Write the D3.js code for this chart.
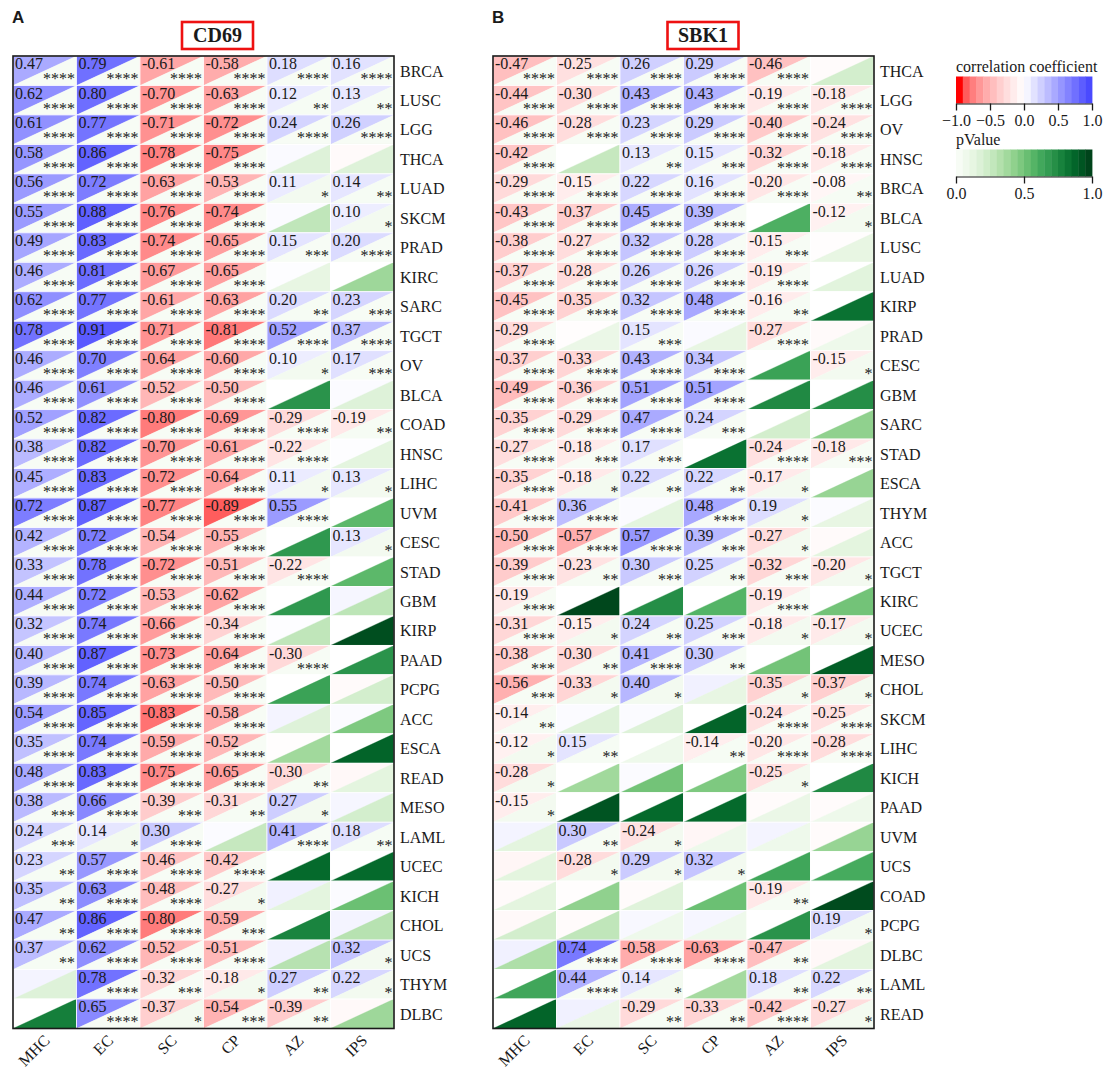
<!DOCTYPE html>
<html>
<head>
<meta charset="utf-8">
<script src="https://cdn.jsdelivr.net/npm/d3@7"></script>
<style>
  html, body { margin: 0; padding: 0; background: #ffffff; }
  svg text { font-family: "Liberation Serif", "Times New Roman", serif; fill: #1a1a1a; }
</style>
</head>
<body>
<svg id="chart" width="1105" height="1068"></svg>
<script>
// Immune-feature axes shared by both panels
const features = ["MHC", "EC", "SC", "CP", "AZ", "IPS"];

// ---- CD69 panel ----
const cd69Cancers = ["BRCA","LUSC","LGG","THCA","LUAD","SKCM","PRAD","KIRC","SARC","TGCT","OV",
  "BLCA","COAD","HNSC","LIHC","UVM","CESC","STAD","GBM","KIRP","PAAD","PCPG","ACC","ESCA",
  "READ","MESO","LAML","UCEC","KICH","CHOL","UCS","THYM","DLBC"];
const cd69Corr = [
  [0.47, 0.79, -0.61, -0.58, 0.18, 0.16],
  [0.62, 0.80, -0.70, -0.63, 0.12, 0.13],
  [0.61, 0.77, -0.71, -0.72, 0.24, 0.26],
  [0.58, 0.86, -0.78, -0.75, 0.03, -0.04],
  [0.56, 0.72, -0.63, -0.53, 0.11, 0.14],
  [0.55, 0.88, -0.76, -0.74, 0.02, 0.10],
  [0.49, 0.83, -0.74, -0.65, 0.15, 0.20],
  [0.46, 0.81, -0.67, -0.65, 0.01, 0.00],
  [0.62, 0.77, -0.61, -0.63, 0.20, 0.23],
  [0.78, 0.91, -0.71, -0.81, 0.52, 0.37],
  [0.46, 0.70, -0.64, -0.60, 0.10, 0.17],
  [0.46, 0.61, -0.52, -0.50, 0.00, 0.02],
  [0.52, 0.82, -0.80, -0.69, -0.29, -0.19],
  [0.38, 0.82, -0.70, -0.61, -0.22, 0.01],
  [0.45, 0.83, -0.72, -0.64, 0.11, 0.13],
  [0.72, 0.87, -0.77, -0.89, 0.55, 0.00],
  [0.42, 0.72, -0.54, -0.55, 0.00, 0.13],
  [0.33, 0.78, -0.72, -0.51, -0.22, 0.00],
  [0.44, 0.72, -0.53, -0.62, 0.00, 0.05],
  [0.32, 0.74, -0.66, -0.34, 0.01, 0.00],
  [0.40, 0.87, -0.73, -0.64, -0.30, 0.00],
  [0.39, 0.74, -0.63, -0.50, 0.00, -0.04],
  [0.54, 0.85, -0.83, -0.58, 0.06, 0.02],
  [0.35, 0.74, -0.59, -0.52, -0.02, 0.00],
  [0.48, 0.83, -0.75, -0.65, -0.30, -0.06],
  [0.38, 0.66, -0.39, -0.31, 0.27, 0.05],
  [0.24, 0.14, 0.30, 0.02, 0.41, 0.18],
  [0.23, 0.57, -0.46, -0.42, 0.00, 0.00],
  [0.35, 0.63, -0.48, -0.27, 0.08, 0.02],
  [0.47, 0.86, -0.80, -0.59, 0.00, 0.06],
  [0.37, 0.62, -0.52, -0.51, 0.07, 0.32],
  [0.06, 0.78, -0.32, -0.18, 0.27, 0.22],
  [0.00, 0.65, -0.37, -0.54, -0.39, -0.05]
];
const cd69P = [
  [1e-5, 1e-5, 1e-5, 1e-5, 1e-5, 1e-5],
  [1e-5, 1e-5, 1e-5, 1e-5, 5e-3, 5e-3],
  [1e-5, 1e-5, 1e-5, 1e-5, 1e-5, 1e-5],
  [1e-5, 1e-5, 1e-5, 1e-5, 0.15, 0.15],
  [1e-5, 1e-5, 1e-5, 1e-5, 0.03, 5e-3],
  [1e-5, 1e-5, 1e-5, 1e-5, 0.27, 0.03],
  [1e-5, 1e-5, 1e-5, 1e-5, 5e-4, 1e-5],
  [1e-5, 1e-5, 1e-5, 1e-5, 0.10, 0.38],
  [1e-5, 1e-5, 1e-5, 1e-5, 5e-3, 5e-4],
  [1e-5, 1e-5, 1e-5, 1e-5, 1e-5, 1e-5],
  [1e-5, 1e-5, 1e-5, 1e-5, 0.03, 5e-4],
  [1e-5, 1e-5, 1e-5, 1e-5, 0.72, 0.15],
  [1e-5, 1e-5, 1e-5, 1e-5, 1e-5, 5e-3],
  [1e-5, 1e-5, 1e-5, 1e-5, 1e-5, 0.12],
  [1e-5, 1e-5, 1e-5, 1e-5, 0.03, 0.03],
  [1e-5, 1e-5, 1e-5, 1e-5, 1e-5, 0.56],
  [1e-5, 1e-5, 1e-5, 1e-5, 0.70, 0.03],
  [1e-5, 1e-5, 1e-5, 1e-5, 1e-5, 0.56],
  [1e-5, 1e-5, 1e-5, 1e-5, 0.70, 0.28],
  [1e-5, 1e-5, 1e-5, 1e-5, 0.27, 0.97],
  [1e-5, 1e-5, 1e-5, 1e-5, 1e-5, 0.72],
  [1e-5, 1e-5, 1e-5, 1e-5, 0.66, 0.20],
  [1e-5, 1e-5, 1e-5, 1e-5, 0.15, 0.47],
  [1e-5, 1e-5, 1e-5, 1e-5, 0.37, 0.90],
  [1e-5, 1e-5, 1e-5, 1e-5, 5e-3, 0.12],
  [5e-4, 1e-5, 5e-4, 5e-3, 0.03, 0.20],
  [5e-4, 0.03, 1e-5, 0.25, 1e-5, 5e-3],
  [5e-3, 1e-5, 1e-5, 1e-5, 0.88, 0.88],
  [5e-3, 1e-5, 1e-5, 0.03, 0.12, 0.52],
  [5e-3, 1e-5, 1e-5, 5e-4, 0.78, 0.30],
  [5e-3, 1e-5, 1e-5, 1e-5, 0.30, 0.03],
  [0.15, 1e-5, 5e-4, 0.03, 5e-3, 0.03],
  [0.80, 1e-5, 0.03, 5e-4, 5e-3, 0.38]
];

// ---- SBK1 panel ----
const sbk1Cancers = ["THCA","LGG","OV","HNSC","BRCA","BLCA","LUSC","LUAD","KIRP","PRAD","CESC",
  "GBM","SARC","STAD","ESCA","THYM","ACC","TGCT","KIRC","UCEC","MESO","CHOL","SKCM","LIHC",
  "KICH","PAAD","UVM","UCS","COAD","PCPG","DLBC","LAML","READ"];
const sbk1Corr = [
  [-0.47, -0.25, 0.26, 0.29, -0.46, -0.03],
  [-0.44, -0.30, 0.43, 0.43, -0.19, -0.18],
  [-0.46, -0.28, 0.23, 0.29, -0.40, -0.24],
  [-0.42, 0.00, 0.13, 0.15, -0.32, -0.18],
  [-0.29, -0.15, 0.22, 0.16, -0.20, -0.08],
  [-0.43, -0.37, 0.45, 0.39, 0.00, -0.12],
  [-0.38, -0.27, 0.32, 0.28, -0.15, -0.02],
  [-0.37, -0.28, 0.26, 0.26, -0.19, 0.00],
  [-0.45, -0.35, 0.32, 0.48, -0.16, 0.00],
  [-0.29, -0.02, 0.15, 0.03, -0.27, -0.04],
  [-0.37, -0.33, 0.43, 0.34, 0.00, -0.15],
  [-0.49, -0.36, 0.51, 0.51, 0.00, 0.00],
  [-0.35, -0.29, 0.47, 0.24, 0.00, 0.00],
  [-0.27, -0.18, 0.17, 0.00, -0.24, -0.18],
  [-0.35, -0.18, 0.22, 0.22, -0.17, 0.00],
  [-0.41, 0.36, 0.02, 0.48, 0.19, 0.02],
  [-0.50, -0.57, 0.57, 0.39, -0.27, -0.04],
  [-0.39, -0.23, 0.30, 0.25, -0.32, -0.20],
  [-0.19, 0.00, 0.00, 0.00, -0.19, 0.00],
  [-0.31, -0.15, 0.24, 0.25, -0.18, -0.17],
  [-0.38, -0.30, 0.41, 0.30, 0.00, 0.00],
  [-0.56, -0.33, 0.40, 0.08, -0.35, -0.37],
  [-0.14, 0.02, 0.02, 0.00, -0.24, -0.25],
  [-0.12, 0.15, 0.00, -0.14, -0.20, -0.28],
  [-0.28, 0.00, 0.02, 0.00, -0.25, 0.00],
  [-0.15, 0.00, 0.00, 0.00, -0.03, -0.03],
  [0.06, 0.30, -0.24, -0.08, 0.06, -0.03],
  [-0.08, -0.28, 0.29, 0.32, 0.00, 0.00],
  [-0.04, -0.02, -0.03, 0.00, -0.19, 0.00],
  [-0.05, -0.03, 0.04, 0.05, 0.00, 0.19],
  [0.08, 0.74, -0.58, -0.63, -0.47, -0.06],
  [0.00, 0.44, 0.14, 0.00, 0.18, 0.22],
  [0.00, 0.08, -0.29, -0.33, -0.42, -0.27]
];
const sbk1P = [
  [1e-5, 1e-5, 1e-5, 1e-5, 1e-5, 0.20],
  [1e-5, 1e-5, 1e-5, 1e-5, 1e-5, 1e-5],
  [1e-5, 1e-5, 1e-5, 1e-5, 1e-5, 1e-5],
  [1e-5, 0.25, 5e-3, 5e-4, 1e-5, 1e-5],
  [1e-5, 1e-5, 1e-5, 1e-5, 1e-5, 5e-3],
  [1e-5, 1e-5, 1e-5, 1e-5, 0.60, 0.03],
  [1e-5, 1e-5, 1e-5, 1e-5, 5e-4, 0.10],
  [1e-5, 1e-5, 1e-5, 1e-5, 1e-5, 0.13],
  [1e-5, 1e-5, 1e-5, 1e-5, 5e-3, 0.85],
  [1e-5, 0.08, 5e-4, 0.10, 1e-5, 0.06],
  [1e-5, 1e-5, 1e-5, 1e-5, 0.66, 0.03],
  [1e-5, 1e-5, 1e-5, 1e-5, 0.76, 0.74],
  [1e-5, 1e-5, 1e-5, 5e-4, 0.20, 0.42],
  [1e-5, 5e-4, 5e-4, 0.85, 1e-5, 5e-4],
  [1e-5, 0.03, 5e-3, 5e-3, 0.03, 0.40],
  [1e-5, 1e-5, 0.12, 1e-5, 0.03, 0.10],
  [1e-5, 1e-5, 1e-5, 5e-4, 0.03, 0.12],
  [1e-5, 5e-3, 5e-4, 5e-3, 5e-4, 0.03],
  [1e-5, 0.99, 0.74, 0.58, 1e-5, 0.50],
  [1e-5, 0.03, 5e-3, 5e-4, 0.03, 0.03],
  [5e-4, 5e-3, 1e-5, 5e-3, 0.50, 0.92],
  [5e-4, 0.03, 0.03, 0.10, 0.03, 0.03],
  [5e-3, 0.15, 0.15, 0.90, 1e-5, 1e-5],
  [0.03, 5e-3, 0.06, 5e-3, 1e-5, 1e-5],
  [0.03, 0.37, 0.50, 0.47, 0.03, 0.76],
  [0.03, 0.95, 0.88, 0.88, 0.08, 0.06],
  [0.12, 5e-3, 0.03, 0.06, 0.06, 0.40],
  [0.12, 0.03, 0.03, 0.03, 0.64, 0.62],
  [0.12, 0.42, 0.14, 0.52, 5e-3, 0.98],
  [0.20, 0.27, 0.06, 0.06, 0.72, 0.03],
  [0.33, 1e-5, 1e-5, 1e-5, 5e-3, 0.12],
  [0.64, 1e-5, 0.03, 0.36, 5e-3, 5e-3],
  [0.90, 0.08, 5e-3, 5e-3, 1e-5, 0.03]
];

// Legend tick values
const corrTicks = [-1, -0.5, 0, 0.5, 1];
const pTicks = [0, 0.5, 1];

// ---- colour scales ----
const redRamp = d3.interpolateRgb.gamma(2.2)("#ffffff", "#ff0000");
const blueRamp = d3.interpolateRgb("#ffffff", "#4a4aff");
const corrColor = d3.scaleDiverging(t => t < 0.5 ? redRamp((0.5 - t) * 2) : blueRamp((t - 0.5) * 2))
  .domain([-1, 0, 1]).clamp(true);
const pColor = d3.scaleSequential(d3.interpolateGreens).domain([0, 1]).clamp(true);

function stars(p) {
  if (p < 1e-4) return "****";
  if (p < 1e-3) return "***";
  if (p < 0.01) return "**";
  if (p < 0.05) return "*";
  return "";
}

const svg = d3.select("#chart");

function drawPanel(opts) {
  const { left, top, width, height, cancers, corr, pval, title, titleX, letter } = opts;
  const g = svg.append("g");
  const x = d3.scaleBand().domain(features).range([left, left + width]);
  const y = d3.scaleBand().domain(cancers).range([top, top + height]);
  const w = x.bandwidth(), h = y.bandwidth();

  const cells = [];
  cancers.forEach((c, i) => features.forEach((f, j) => {
    cells.push({ cancer: c, feature: f, r: corr[i][j], p: pval[i][j] });
  }));

  const cell = g.selectAll("g.cell").data(cells).join("g").attr("class", "cell")
    .attr("transform", d => `translate(${x(d.feature)},${y(d.cancer)})`);

  // upper-left triangle: correlation coefficient
  cell.append("path")
    .attr("d", `M0,0L${w},0L0,${h}Z`)
    .attr("fill", d => corrColor(d.r))
    .attr("stroke", d => corrColor(d.r)).attr("stroke-width", 0.3);
  // lower-right triangle: p value
  cell.append("path")
    .attr("d", `M${w},0L${w},${h}L0,${h}Z`)
    .attr("fill", d => pColor(d.p))
    .attr("stroke", d => pColor(d.p)).attr("stroke-width", 0.3);
  // thin separators between cells
  cell.append("rect")
    .attr("width", w).attr("height", h)
    .attr("fill", "none").attr("stroke", "#ffffff").attr("stroke-width", 0.8);

  const sig = cell.filter(d => stars(d.p) !== "");
  sig.append("text")
    .attr("x", 2).attr("y", 13.3)
    .attr("font-size", 16)
    .text(d => d.r.toFixed(2));
  sig.append("text")
    .attr("x", w - 1.5).attr("y", 28.3)
    .attr("text-anchor", "end")
    .attr("font-size", 16)
    .text(d => stars(d.p));

  // frame
  g.append("rect")
    .attr("x", left).attr("y", top).attr("width", width).attr("height", height)
    .attr("fill", "none").attr("stroke", "#1a1a1a").attr("stroke-width", 1.6);

  // row labels
  g.selectAll("text.row").data(cancers).join("text").attr("class", "row")
    .attr("x", left + width + 6)
    .attr("y", d => y(d) + h / 2 + 5.8)
    .attr("font-size", 16)
    .text(d => d);

  // column labels, rotated
  g.selectAll("text.col").data(features).join("text").attr("class", "col")
    .attr("transform", d => `translate(${x(d) + w / 2 + 6},${top + height + 13}) rotate(-45)`)
    .attr("text-anchor", "end")
    .attr("font-size", 16)
    .text(d => d);

  // title in red box
  g.append("rect")
    .attr("x", titleX - 35.5).attr("y", 22).attr("width", 71).attr("height", 27)
    .attr("fill", "#ffffff").attr("stroke", "#ee1111").attr("stroke-width", 2.6);
  g.append("text")
    .attr("x", titleX).attr("y", 42)
    .attr("text-anchor", "middle")
    .attr("font-size", 20).attr("font-weight", "bold")
    .text(title);

  // panel letter
  g.append("text")
    .attr("x", letter.x).attr("y", 23)
    .attr("font-size", 17).attr("font-weight", "bold")
    .style("font-family", "'Liberation Sans', Arial, sans-serif")
    .text(letter.text);
}

const gridTop = 56, gridW = 381, gridH = 972.5;
drawPanel({ left: 13, top: gridTop, width: gridW, height: gridH, cancers: cd69Cancers,
  corr: cd69Corr, pval: cd69P, title: "CD69", titleX: 217.5, letter: { x: 12, text: "A" } });
drawPanel({ left: 493, top: gridTop, width: gridW, height: gridH, cancers: sbk1Cancers,
  corr: sbk1Corr, pval: sbk1P, title: "SBK1", titleX: 703, letter: { x: 492, text: "B" } });

// ---- legends ----
function colorBar(opts) {
  const { x0, x1, yTop, barH, domain, color, ticks, label, labelY } = opts;
  const g = svg.append("g");
  const s = d3.scaleLinear().domain(domain).range([x0, x1]);
  const n = 20;
  const bands = d3.range(n);
  const bw = (x1 - x0) / n;
  g.selectAll("rect.band").data(bands).join("rect").attr("class", "band")
    .attr("x", i => x0 + i * bw).attr("y", yTop)
    .attr("width", bw + 0.4).attr("height", barH)
    .attr("fill", i => color(domain[0] + (domain[1] - domain[0]) * i / (n - 1)));
  const axis = d3.axisBottom(s).tickValues(ticks).tickSize(7).tickSizeOuter(0)
    .tickFormat(d3.format(".1f"));
  const ag = g.append("g").attr("transform", `translate(0,${yTop + barH})`).call(axis);
  ag.select(".domain").attr("stroke", "#1a1a1a").attr("stroke-width", 1);
  ag.selectAll(".tick line").attr("stroke", "#1a1a1a").attr("stroke-width", 1.3);
  ag.selectAll(".tick text").attr("font-size", 16).attr("fill", "#1a1a1a")
    .attr("font-family", "'Liberation Serif', serif").attr("y", 11).attr("dy", "0.71em");
  g.append("text").attr("x", x0).attr("y", labelY).attr("font-size", 16).text(label);
}

colorBar({ x0: 956, x1: 1092, yTop: 76.5, barH: 27, domain: [-1, 1], color: corrColor,
  ticks: corrTicks, label: "correlation coefficient", labelY: 72 });
colorBar({ x0: 956, x1: 1092, yTop: 149.5, barH: 27, domain: [0, 1], color: pColor,
  ticks: pTicks, label: "pValue", labelY: 145 });
</script>
</body>
</html>
